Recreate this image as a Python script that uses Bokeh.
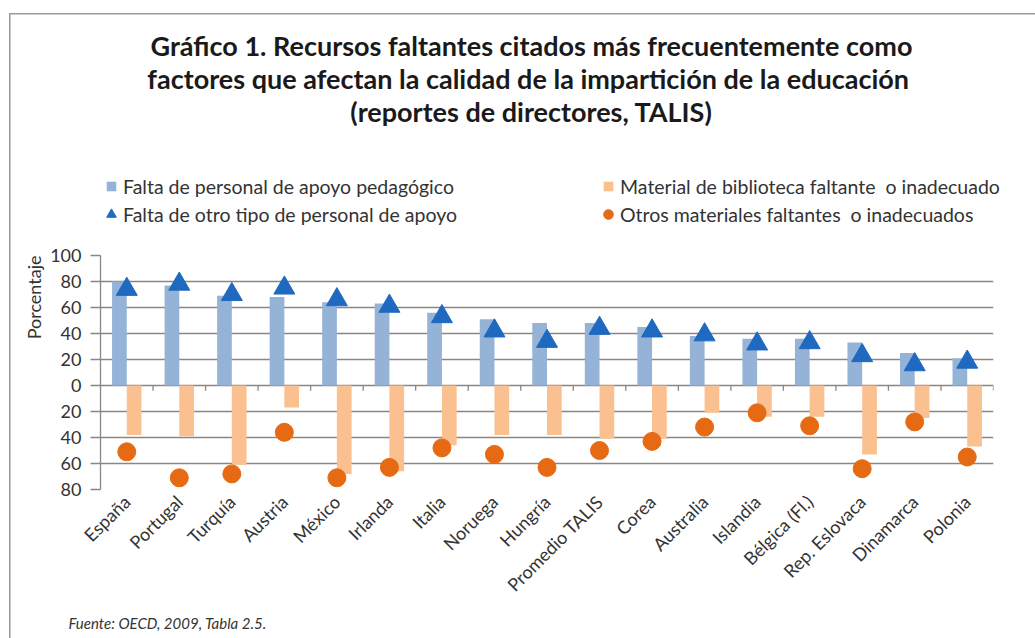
from math import pi, nan
from bokeh.plotting import figure
from bokeh.layouts import column, row
from bokeh.models import (ColumnDataSource, FactorRange, Range1d, FixedTicker, Label,
                          Legend, LegendItem, Title)
from bokeh.transform import dodge
from bokeh.embed import file_html
from bokeh.resources import INLINE

# ---------------- data ----------------
countries = ["España", "Portugal", "Turquía", "Austria", "México", "Irlanda", "Italia",
             "Noruega", "Hungría", "Promedio TALIS", "Corea", "Australia", "Islandia",
             "Bélgica (Fl.)", "Rep. Eslovaca", "Dinamarca", "Polonia"]
apoyo_pedagogico = [80, 77, 69, 68, 64, 63, 56, 51, 48, 48, 45, 38, 36, 36, 33, 25, 21]
otro_personal = [74, 78, 70, 75, 66, 61, 53, 42, 34, 44, 42, 39, 32, 33, 23, 16, 18]
biblioteca = [38, 39, 61, 17, 68, 66, 46, 38, 38, 41, 41, 21, 24, 24, 53, 25, 47]
otros_materiales = [51, 71, 68, 36, 71, 63, 48, 53, 63, 50, 43, 32, 21, 31, 64, 28, 55]

y_ticks = [-80, -60, -40, -20, 0, 20, 40, 60, 80, 100]
y_tick_labels = ["80", "60", "40", "20", "0", "20", "40", "60", "80", "100"]

title_lines = ["Gráfico 1. Recursos faltantes citados más frecuentemente como",
               "factores que afectan la  calidad de la impartición de la educación",
               "(reportes de directores, TALIS)"]
legend_labels = ["Falta de personal de apoyo pedagógico",
                 "Falta de otro tipo de personal de apoyo",
                 "Material de biblioteca faltante  o inadecuado",
                 "Otros materiales faltantes  o inadecuados"]
y_label = "Porcentaje"
source_note = "Fuente: OECD, 2009, Tabla 2.5."

# ---------------- styling ----------------
BLUE_BAR = "#95b3d7"
BLUE_MK = "#1f6ac0"
ORANGE_BAR = "#fac090"
ORANGE_MK = "#e66a14"
GRID = "#8a8684"
TXT = "#333333"
BORDER = "#9a9a9a"
FONT = "Lato"

W, H = 1035, 638
HEAD_H = 240          # header (title + legend)
MAIN_BOTTOM = 612     # bottom of the chart block
FT, FB, FL, FR = 255, 489, 100, 993   # chart frame on the page
MAIN_H = MAIN_BOTTOM - HEAD_H
FOOT_H = H - MAIN_BOTTOM


def blank(width, height):
    f = figure(width=width, height=height, x_range=Range1d(0, width),
               y_range=Range1d(height, 0), x_axis_location=None, y_axis_location=None,
               min_border=0, toolbar_location=None, output_backend="svg")
    f.grid.visible = False
    f.outline_line_color = None
    f.background_fill_color = None
    f.border_fill_color = None
    return f


# ---------------- header ----------------
head = blank(W, HEAD_H)
for txt, cy in zip(title_lines, [45, 78, 111]):
    head.add_layout(Label(x=531, y=cy, text=txt, text_align="center", text_baseline="middle",
                          text_font=FONT, text_font_style="bold", text_font_size="27px",
                          text_color="#1a1a1a"))

# legend swatches (a single undrawn point each, only used by the legend)
lg_blue = head.scatter(x=[nan], y=[nan], marker="square", fill_color=BLUE_BAR, line_color=None)
lg_tri = head.scatter(x=[nan], y=[nan], marker="triangle", fill_color=BLUE_MK, line_color=BLUE_MK)
lg_orange = head.scatter(x=[nan], y=[nan], marker="square", fill_color=ORANGE_BAR, line_color=None)
lg_circ = head.scatter(x=[nan], y=[nan], marker="circle", fill_color=ORANGE_MK, line_color=ORANGE_MK)

BOX = 24


def make_legend(label, rend, gx, gy_center):
    lg = Legend(items=[LegendItem(label=label, renderers=[rend])],
                location=(gx, HEAD_H - (gy_center + BOX / 2)),
                glyph_width=BOX, glyph_height=BOX, label_height=BOX,
                label_standoff=0, padding=0, margin=0, spacing=0,
                border_line_color=None, background_fill_alpha=0,
                label_text_font=FONT, label_text_font_size="19.5px",
                label_text_color=TXT)
    head.add_layout(lg)


make_legend(legend_labels[0], lg_blue, 99, 186)
make_legend(legend_labels[1], lg_tri, 99, 214)
make_legend(legend_labels[2], lg_orange, 596, 186)
make_legend(legend_labels[3], lg_circ, 596, 214)

# ---------------- chart ----------------
src = ColumnDataSource(dict(
    country=countries,
    blue=apoyo_pedagogico,
    tri=otro_personal,
    orange=[-v for v in biblioteca],
    circ=[-v for v in otros_materiales],
))

p = figure(width=W, height=MAIN_H, x_range=FactorRange(*countries),
           y_range=Range1d(-80, 100), output_backend="svg", toolbar_location=None,
           min_border_left=FL, min_border_right=W - FR,
           min_border_top=FT - HEAD_H, min_border_bottom=MAIN_BOTTOM - FB)
p.outline_line_color = None
p.background_fill_color = None
p.border_fill_color = None

p.xgrid.grid_line_color = None
p.ygrid.grid_line_color = GRID
p.ygrid.grid_line_width = 1.3
p.ygrid.ticker = FixedTicker(ticks=y_ticks)

p.yaxis.ticker = FixedTicker(ticks=y_ticks)
p.yaxis.major_label_overrides = {t: l for t, l in zip(y_ticks, y_tick_labels)}
p.yaxis.axis_line_color = GRID
p.yaxis.axis_line_width = 1.3
p.yaxis.major_tick_line_color = GRID
p.yaxis.major_tick_line_width = 1.3
p.yaxis.major_tick_out = 10
p.yaxis.major_tick_in = 0
p.yaxis.minor_tick_line_color = None
p.yaxis.major_label_text_font = FONT
p.yaxis.major_label_text_font_size = "18px"
p.yaxis.major_label_text_color = TXT
p.yaxis.major_label_standoff = 9

p.add_layout(Title(text=y_label, align="right", text_font=FONT, text_font_size="18px",
                   text_font_style="normal", text_color=TXT, standoff=6), "left")

p.xaxis.axis_line_color = None
p.xaxis.major_tick_line_color = None
p.xaxis.major_tick_out = 0
p.xaxis.major_label_orientation = pi / 4
p.xaxis.major_label_text_font = FONT
p.xaxis.major_label_text_font_size = "18px"
p.xaxis.major_label_text_color = TXT
p.xaxis.major_label_standoff = 9

p.vbar(x=dodge("country", -0.14, range=p.x_range), top="blue", width=0.28,
       source=src, fill_color=BLUE_BAR, line_color=None)
p.vbar(x=dodge("country", 0.14, range=p.x_range), top=0, bottom="orange",
       width=0.28, source=src, fill_color=ORANGE_BAR, line_color=None)

p.segment(x0=dodge("country", 0.5, range=p.x_range), x1=dodge("country", 0.5, range=p.x_range),
          y0=0, y1=-4, source=src, line_color=GRID, line_width=1.3)

p.scatter(x="country", y="tri", source=src, marker="triangle", size=21,
          fill_color=BLUE_MK, line_color=BLUE_MK)
p.scatter(x="country", y="circ", source=src, marker="circle", size=18,
          fill_color=ORANGE_MK, line_color=ORANGE_MK)

# ---------------- footer ----------------
foot = blank(W, FOOT_H)
foot.add_layout(Label(x=68, y=622 - MAIN_BOTTOM, text=source_note, text_align="left",
                      text_baseline="middle", text_font=FONT, text_font_style="italic",
                      text_font_size="15px", text_color=TXT))

# thin grey page border (top and left) drawn as the page background
page_styles = {
    "background-color": "white",
    "background-image": f"linear-gradient({BORDER},{BORDER}), linear-gradient({BORDER},{BORDER})",
    "background-size": "1.5px 100%, 100% 1.5px",
    "background-position": "9px 13px, 9px 13px",
    "background-repeat": "no-repeat",
}
# each figure sits in its own row so that the column does not align their frames
layout = column(row(head), row(p), row(foot), spacing=0, styles=page_styles)
open("out.html", "w").write(file_html(layout, INLINE))
